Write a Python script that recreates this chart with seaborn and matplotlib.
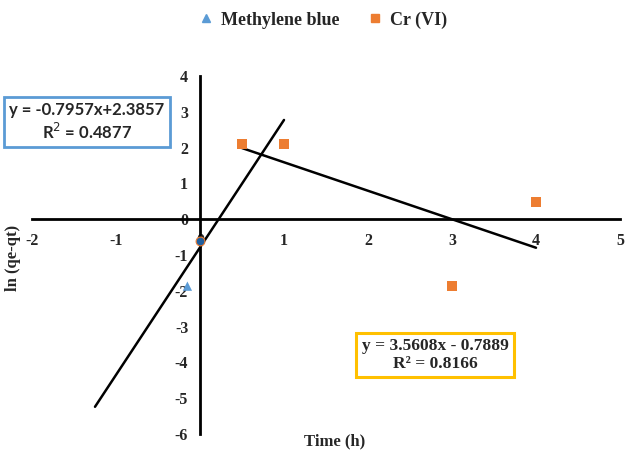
import numpy as np
import pandas as pd
import matplotlib
matplotlib.use("Agg")
import matplotlib.pyplot as plt
import seaborn as sns
from matplotlib.lines import Line2D

# Kinetic data: ln(qe - qt) versus time
mb_time = [-0.15]
mb_value = [-1.87]
cr_time = [0.5, 1.0, 3.0, 4.0]
cr_value = [2.1, 2.1, -1.87, 0.48]
center_time = [0.0]
center_value = [-0.6]

# Linear trendlines: slope, intercept, x-range
fit_a = dict(slope=3.5608, intercept=-0.7889, x0=-1.25, x1=1.0)
fit_b = dict(slope=-0.7957, intercept=2.3857, x0=0.5, x1=4.0)

x_ticks = [-2, -1, 0, 1, 2, 3, 4, 5]
y_ticks = [-6, -5, -4, -3, -2, -1, 0, 1, 2, 3, 4]

sns.set_style("white")
plt.rcParams["font.family"] = ["Liberation Serif", "DejaVu Serif"]
plt.rcParams["axes.unicode_minus"] = False

BLUE = "#5B9BD5"
ORANGE = "#ED7D31"

df = pd.DataFrame({
    "time": mb_time + cr_time,
    "value": mb_value + cr_value,
    "series": ["Methylene blue"] * len(mb_time) + ["Cr (VI)"] * len(cr_time),
})

fig = plt.figure(figsize=(6.25, 4.55), dpi=100)
ax = fig.add_axes([32 / 625, 1 - 434 / 455, (620 - 32) / 625, (434 - 76) / 455])

for fit in (fit_a, fit_b):
    xs = np.array([fit["x0"], fit["x1"]])
    ax.plot(xs, fit["slope"] * xs + fit["intercept"], color="black", lw=1.8, zorder=2)

sns.scatterplot(data=df, x="time", y="value", hue="series", style="series",
                palette={"Methylene blue": BLUE, "Cr (VI)": ORANGE},
                markers={"Methylene blue": "^", "Cr (VI)": "s"},
                s=45, linewidth=0, ax=ax, legend=False, zorder=3)
ax.scatter(center_time, center_value, marker="o", s=40, color="#1F5F9F",
           edgecolor=ORANGE, linewidth=0.8, zorder=4)

ax.set_xlim(-2, 5)
ax.set_ylim(-6, 4)
ax.set_xticks(x_ticks)
ax.set_yticks(y_ticks)
ax.set_xlabel("")
ax.set_ylabel("")

for side in ("top", "right"):
    ax.spines[side].set_visible(False)
for side in ("left", "bottom"):
    ax.spines[side].set_position(("data", 0))
    ax.spines[side].set_linewidth(2)
    ax.spines[side].set_color("black")

ax.tick_params(axis="both", direction="out", length=5, width=1.8, color="black",
               labelsize=11.5)
ax.tick_params(axis="x", pad=5)
for lbl in ax.get_xticklabels() + ax.get_yticklabels():
    lbl.set_fontweight("bold")

fig.text(335 / 625, 1 - 441 / 455, "Time (h)", ha="center", va="center",
         fontsize=12, fontweight="bold")
fig.text(13 / 625, 1 - 258 / 455, "ln (qe-qt)", ha="center", va="center",
         rotation=90, fontsize=12, fontweight="bold")

# Trendline equation boxes
fig.text(87 / 625, 1 - 122 / 455, "y = -0.7957x+2.3857\nR$^2$ = 0.4877",
         ha="center", va="center", fontsize=12, fontweight="bold",
         family=["Lato", "DejaVu Sans"], linespacing=1.2,
         bbox=dict(boxstyle="square,pad=0.3", fc="white", ec=BLUE, lw=2))
fig.text(435 / 625, 1 - 355 / 455, "y = 3.5608x - 0.7889\nR² = 0.8166",
         ha="center", va="center", fontsize=12.5, fontweight="bold",
         linespacing=1.2,
         bbox=dict(boxstyle="square,pad=0.3", fc="white", ec="#FFC000", lw=2.2))

handles = [
    Line2D([], [], marker="^", color=BLUE, linestyle="none", markersize=6),
    Line2D([], [], marker="s", color=ORANGE, linestyle="none", markersize=6),
]
fig.legend(handles, ["Methylene blue", "Cr (VI)"], loc="center",
           bbox_to_anchor=(0.515, 1 - 20 / 455), ncol=2, frameon=False,
           prop=dict(size=13, weight="bold"), handletextpad=0.3,
           columnspacing=1.5, handlelength=1.0)

fig.savefig("out.png", dpi=100)
